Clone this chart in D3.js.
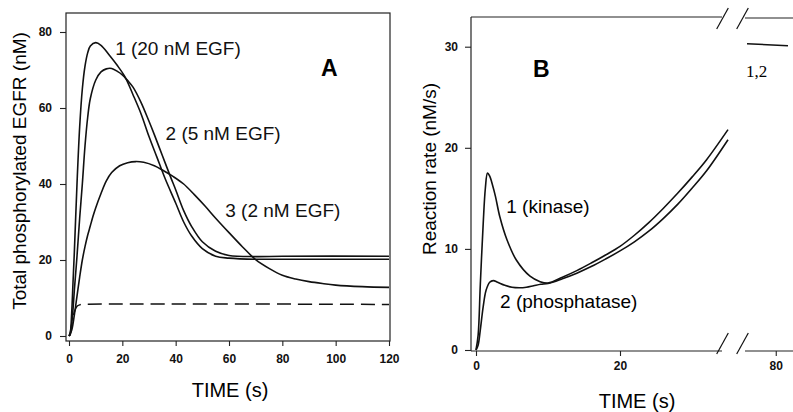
<!DOCTYPE html>
<html>
<head>
<meta charset="utf-8">
<script src="https://cdn.jsdelivr.net/npm/d3@7"></script>
<style>
  body { margin: 0; background: #fff; }
  svg { display: block; font-family: "Liberation Sans", Arial, sans-serif; }
  .tick text { font-size: 12px; font-weight: bold; fill: #111; }
  .tick line { stroke: #222; stroke-width: 1.1; }
</style>
</head>
<body>
<div id="chart"></div>
<script>
// ---- panel A : total phosphorylated EGFR (nM) vs time (s)
const ticksAX = [0, 20, 40, 60, 80, 100, 120];
const ticksAY = [0, 20, 40, 60, 80];

const egf20 = [[0,0],[0.5,1],[1,6],[1.5,14],[2,22],[3,40],[4,55],[5,65],[6,71],[7,74.5],[8,76.3],
  [10,77.2],[12,76.5],[15,74],[18,71.3],[21,68.2],[24,63.5],[27,58.5],[30,52.5],[33,47],[36,41.5],
  [40,35],[43,30],[46,26.3],[50,23],[55,21],[60,20.5],[70,20.2],[80,20.2],[120,20.2]];
const egf5 = [[0,0],[0.5,0.5],[1,3],[1.5,7],[2,12],[3,21],[4,31],[5,40],[6,50],[7,57.5],[8,62.5],
  [10,67.3],[12,69.5],[14,70.3],[16,70.4],[18,69.7],[20,68.7],[22,67.2],[24,65.5],[27,61.5],[30,56.5],
  [32,53],[35,47.5],[38,42],[40,38.5],[43,33],[46,28.8],[50,24.8],[55,22.3],[60,21.2],[70,20.9],
  [80,21],[120,21]];
const egf2 = [[0,0],[1,1.5],[2,5.5],[3,10.5],[4,15.5],[5,20],[6,23.5],[7,26.5],[8,29],[9,31.5],
  [10,33.7],[12,37.5],[14,40.8],[16,43],[19,44.8],[22,45.6],[25,45.9],[28,45.7],[32,44.8],[35,43.7],
  [39,42],[43,40],[47,37.2],[51,34.2],[55,31],[60,27.2],[65,23.5],[70,20.1],[75,17.8],[80,16],
  [85,15],[90,14.3],[95,13.8],[100,13.4],[110,13],[120,12.8]];
const dashedA = [[0.3,0],[1,3],[2,6.3],[3,7.8],[4,8.2],[5,8.3],[120,8.3]];

const labelsA = [
  { text: "1 (20 nM EGF)", t: 17.3, v: 74 },
  { text: "2 (5 nM EGF)", t: 36.2, v: 51.5 },
  { text: "3 (2 nM EGF)", t: 58.6, v: 31.4 }
];

// ---- panel B : reaction rate (nM/s) vs time (s), broken time axis
const ticksBXLeft = [0, 20];
const ticksBXRight = [80];
const ticksBY = [0, 10, 20, 30];

const kinase = [[0,0],[0.3,1.5],[0.6,6.5],[1,12.5],[1.3,16],[1.6,17.5],[1.9,17.2],[2.3,16.3],
  [2.7,15.2],[3.3,13.2],[4.3,10.9],[5.6,8.9],[7.5,7.3],[8.9,6.76],[10,6.62],[12,7.2],[14,7.85],
  [16,8.6],[18,9.4],[20,10.25],[22,11.35],[24,12.6],[26,14],[28,15.5],[30,17.1],[32,18.8],[35,21.8]];
const phosphatase = [[0,0],[0.3,0.5],[0.6,2],[1,4.3],[1.4,5.9],[1.9,6.7],[2.4,6.86],[3,6.7],[4,6.4],
  [5,6.2],[6,6.15],[7,6.2],[8,6.35],[9,6.5],[10,6.58],[12,7.05],[14,7.6],[16,8.25],[18,9],[20,9.8],
  [22,10.7],[24,11.75],[26,13],[28,14.4],[30,16],[32,17.7],[35,20.8]];
const lateRate = [[76,30.3],[81.7,30.1]];

const width = 793, height = 412;
const svg = d3.select("#chart").append("svg")
  .attr("width", width).attr("height", height);

const fmt = d3.format("d");
const line = (xs, ys) => d3.line()
  .x(d => xs(d[0])).y(d => ys(d[1]))
  .curve(d3.curveCatmullRom.alpha(0.5));

// ================= Panel A =================
const frameA = { left: 66, right: 390, top: 13, bottom: 341 };
const xA = d3.scaleLinear().domain([0, 120]).range([69, 389]);
const yA = d3.scaleLinear().domain([0, 80]).range([336, 32]);

const gA = svg.append("g");

gA.append("rect")
  .attr("x", frameA.left).attr("y", frameA.top)
  .attr("width", frameA.right - frameA.left)
  .attr("height", frameA.bottom - frameA.top)
  .attr("fill", "none").attr("stroke", "#222").attr("stroke-width", 1.2);

gA.append("g")
  .attr("transform", "translate(0," + frameA.bottom + ")")
  .call(d3.axisBottom(xA).tickValues(ticksAX).tickFormat(fmt).tickSize(5).tickPadding(8.5))
  .select(".domain").remove();

gA.append("g")
  .attr("transform", "translate(" + frameA.left + ",0)")
  .call(d3.axisLeft(yA).tickValues(ticksAY).tickFormat(fmt).tickSize(6).tickPadding(8))
  .select(".domain").remove();

[egf20, egf5, egf2].forEach(s => {
  gA.append("path").datum(s)
    .attr("d", line(xA, yA))
    .attr("fill", "none").attr("stroke", "#111").attr("stroke-width", 1.6);
});
gA.append("path").datum(dashedA)
  .attr("d", line(xA, yA))
  .attr("fill", "none").attr("stroke", "#111").attr("stroke-width", 1.5)
  .attr("stroke-dasharray", "14,7");

gA.selectAll(".lab").data(labelsA).enter().append("text")
  .attr("x", d => xA(d.t)).attr("y", d => yA(d.v))
  .style("font-size", "19px").attr("fill", "#111")
  .text(d => d.text);

gA.append("text").attr("x", 321).attr("y", 76)
  .style("font-size", "23px").style("font-weight", "bold").text("A");

gA.append("text").attr("x", 230).attr("y", 397)
  .attr("text-anchor", "middle").style("font-size", "20px").text("TIME (s)");

gA.append("text")
  .attr("transform", "translate(26,171) rotate(-90)")
  .attr("text-anchor", "middle").style("font-size", "19px")
  .text("Total phosphorylated EGFR (nM)");

// ================= Panel B =================
const frameB = { left: 471, top: 17, bottom: 351, breakL: 722, breakR: 745, right: 793 };
const xB = d3.scaleLinear().domain([0, 35]).range([476, 728]);
const xB2 = d3.scaleLinear().domain([76, 82.4]).range([747, 793]);
const yB = d3.scaleLinear().domain([0, 30]).range([350, 46.7]);

const gB = svg.append("g");
const frameLines = [
  [frameB.left, frameB.top, frameB.left, frameB.bottom],
  [frameB.left, frameB.top, frameB.breakL, frameB.top],
  [frameB.breakR, frameB.top + 1, frameB.right, frameB.top + 1],
  [frameB.left, frameB.bottom, frameB.breakL, frameB.bottom],
  [frameB.breakR, frameB.bottom, frameB.right, frameB.bottom]
];
gB.selectAll(".frame").data(frameLines).enter().append("line")
  .attr("x1", d => d[0]).attr("y1", d => d[1]).attr("x2", d => d[2]).attr("y2", d => d[3])
  .attr("stroke", "#222").attr("stroke-width", 1.2);

// break marks
const slashes = [];
[frameB.top, frameB.bottom - 9].forEach(y => {
  [716.7, 736.7].forEach(x => slashes.push([x, y + 12, x + 11.6, y - 9]));
});
gB.selectAll(".slash").data(slashes).enter().append("line")
  .attr("x1", d => d[0]).attr("y1", d => d[1]).attr("x2", d => d[2]).attr("y2", d => d[3])
  .attr("stroke", "#111").attr("stroke-width", 1.2);

gB.append("g")
  .attr("transform", "translate(0," + frameB.bottom + ")")
  .call(d3.axisBottom(xB).tickValues(ticksBXLeft).tickFormat(fmt).tickSize(5).tickPadding(5.5))
  .select(".domain").remove();
gB.append("g")
  .attr("transform", "translate(0," + frameB.bottom + ")")
  .call(d3.axisBottom(xB2).tickValues(ticksBXRight).tickFormat(fmt).tickSize(5).tickPadding(5.5))
  .select(".domain").remove();
gB.append("g")
  .attr("transform", "translate(" + frameB.left + ",0)")
  .call(d3.axisLeft(yB).tickValues(ticksBY).tickFormat(fmt).tickSize(6).tickPadding(7))
  .select(".domain").remove();

[kinase, phosphatase].forEach(s => {
  gB.append("path").datum(s)
    .attr("d", line(xB, yB))
    .attr("fill", "none").attr("stroke", "#111").attr("stroke-width", 1.6);
});
gB.append("path").datum(lateRate)
  .attr("d", d3.line().x(d => xB2(d[0])).y(d => yB(d[1])))
  .attr("fill", "none").attr("stroke", "#111").attr("stroke-width", 1.5);

gB.append("text").attr("x", xB(4.2)).attr("y", yB(13.6))
  .style("font-size", "19px").text("1 (kinase)");
gB.append("text").attr("x", xB(3.35)).attr("y", yB(4.15))
  .style("font-size", "19px").text("2 (phosphatase)");
gB.append("text").attr("x", 746).attr("y", 77)
  .style("font-family", "'Liberation Serif', 'Times New Roman', serif")
  .style("font-size", "17px").text("1,2");

gB.append("text").attr("x", 533).attr("y", 77)
  .style("font-size", "23px").style("font-weight", "bold").text("B");

gB.append("text").attr("x", 637).attr("y", 408)
  .attr("text-anchor", "middle").style("font-size", "20px").text("TIME (s)");

gB.append("text")
  .attr("transform", "translate(436,169) rotate(-90)")
  .attr("text-anchor", "middle").style("font-size", "19px")
  .text("Reaction rate (nM/s)");
</script>
</body>
</html>
